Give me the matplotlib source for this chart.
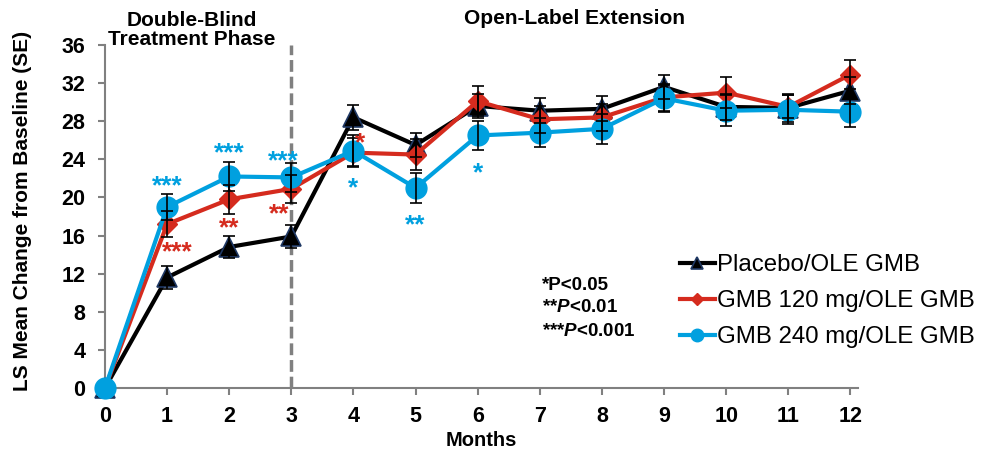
import matplotlib
matplotlib.use("Agg")
import matplotlib.pyplot as plt

plt.rcParams['font.family'] = ['Liberation Sans', 'DejaVu Sans']
plt.rcParams['mathtext.fontset'] = 'custom'
plt.rcParams['mathtext.it'] = 'Liberation Sans:bold:italic'
plt.rcParams['mathtext.rm'] = 'Liberation Sans:bold'

# data
months = [0, 1, 2, 3, 4, 5, 6, 7, 8, 9, 10, 11, 12]
placebo = [0, 11.6, 14.8, 15.9, 28.4, 25.5, 29.6, 29.1, 29.3, 31.6, 29.5, 29.4, 31.2]
placebo_se = [0, 1.2, 1.2, 1.2, 1.3, 1.3, 1.3, 1.3, 1.3, 1.3, 1.4, 1.5, 1.4]
gmb120 = [0, 17.2, 19.8, 20.9, 24.7, 24.5, 30.1, 28.2, 28.4, 30.5, 31.0, 29.5, 32.9]
gmb120_se = [0, 1.4, 1.5, 1.5, 1.5, 1.6, 1.6, 1.4, 1.4, 1.4, 1.6, 1.2, 1.5]
gmb240 = [0, 19.0, 22.2, 22.1, 24.9, 21.0, 26.5, 26.8, 27.2, 30.4, 29.1, 29.2, 29.0]
gmb240_se = [0, 1.4, 1.5, 1.5, 1.6, 1.6, 1.5, 1.5, 1.6, 1.4, 1.6, 1.5, 1.6]

# significance marks: (x, y, text, series)
marks = [
    (1.0, 21.8, '***', 'blue'), (1.17, 14.8, '***', 'red'),
    (2.0, 25.2, '***', 'blue'), (2.0, 17.4, '**', 'red'),
    (2.87, 24.4, '***', 'blue'), (2.8, 18.8, '**', 'red'),
    (4.1, 26.3, '*', 'red'), (4.0, 21.6, '*', 'blue'),
    (5.0, 17.7, '**', 'blue'), (6.0, 23.1, '*', 'blue'),
]

black = '#000000'
red = '#D52B1E'
blue = '#00A0DF'
colors = {'red': red, 'blue': blue}

fig = plt.figure(figsize=(9.86, 4.53), dpi=100)
ax = fig.add_axes([0.1065, 0.1435, 0.7635, 0.7572])

ax.plot(months, placebo, color=black, lw=3, marker='^', ms=15,
        mfc=black, mec='#1F3864', mew=1.2, zorder=3, clip_on=False,
        label='Placebo/OLE GMB')
ax.plot(months, gmb120, color=red, lw=3, marker='D', ms=10.5,
        mfc=red, mec=red, zorder=4, clip_on=False,
        label='GMB 120 mg/OLE GMB')
ax.plot(months, gmb240, color=blue, lw=3, marker='o', ms=15,
        mfc=blue, mec=blue, zorder=5, clip_on=False,
        label='GMB 240 mg/OLE GMB')

for vals, se in [(placebo, placebo_se), (gmb120, gmb120_se), (gmb240, gmb240_se)]:
    ax.errorbar(months[1:], vals[1:], yerr=se[1:], fmt='none', ecolor='black',
                elinewidth=1.2, capsize=4, capthick=1.2, zorder=6)

# asterisk glyphs sit high in the line box, so nudge them down a little
for x, y, t, c in marks:
    ax.text(x, y - 0.6, t, color=colors[c], fontsize=19, fontweight='bold',
            ha='center', va='center', zorder=7)

ax.axvline(3, color='#808080', lw=2.5, ls=(0, (3.4, 1.4)), zorder=2)

ax.set_xlim(0, 12.12)
ax.set_ylim(0, 36)
ax.set_xticks(months)
ax.set_yticks(range(0, 37, 4))
ax.tick_params(axis='both', colors='#808080', width=1.5, length=5,
               labelsize=15.5, labelcolor='black', direction='out')
ax.tick_params(axis='y', pad=9)
ax.tick_params(axis='x', pad=8)
for lab in ax.get_xticklabels() + ax.get_yticklabels():
    lab.set_fontweight('bold')
for side in ['top', 'right']:
    ax.spines[side].set_visible(False)
for side in ['left', 'bottom']:
    ax.spines[side].set_color('#808080')
    ax.spines[side].set_linewidth(1.5)

ax.set_xlabel('Months', fontsize=14.5, fontweight='bold', labelpad=3)
ax.set_ylabel('LS Mean Change from Baseline (SE)', fontsize=15, fontweight='bold')
ax.yaxis.set_label_coords(-0.097, 0.516)

fig.text(192 / 986, 1 - 30 / 453, 'Double-Blind\nTreatment Phase', fontsize=15,
         fontweight='bold', ha='center', va='center', linespacing=1.0)
fig.text(575 / 986, 1 - 19 / 453, 'Open-Label Extension', fontsize=15,
         fontweight='bold', ha='center', va='center')

ptexts = ['*P<0.05', r'**$P$<0.01', r'***$P$<0.001']
for i, t in enumerate(ptexts):
    fig.text(542 / 986, 1 - (285 + 23 * i) / 453, t, fontsize=13.5,
             fontweight='bold', ha='left', va='center')

ax.legend(loc='upper left', bbox_to_anchor=(668 / 986, 1 - 242 / 453),
          bbox_transform=fig.transFigure, frameon=False, fontsize=17.3,
          handlelength=1.45, handletextpad=0.1, labelspacing=0.59,
          borderpad=0, markerscale=0.6)

fig.savefig('out.png', dpi=100)
